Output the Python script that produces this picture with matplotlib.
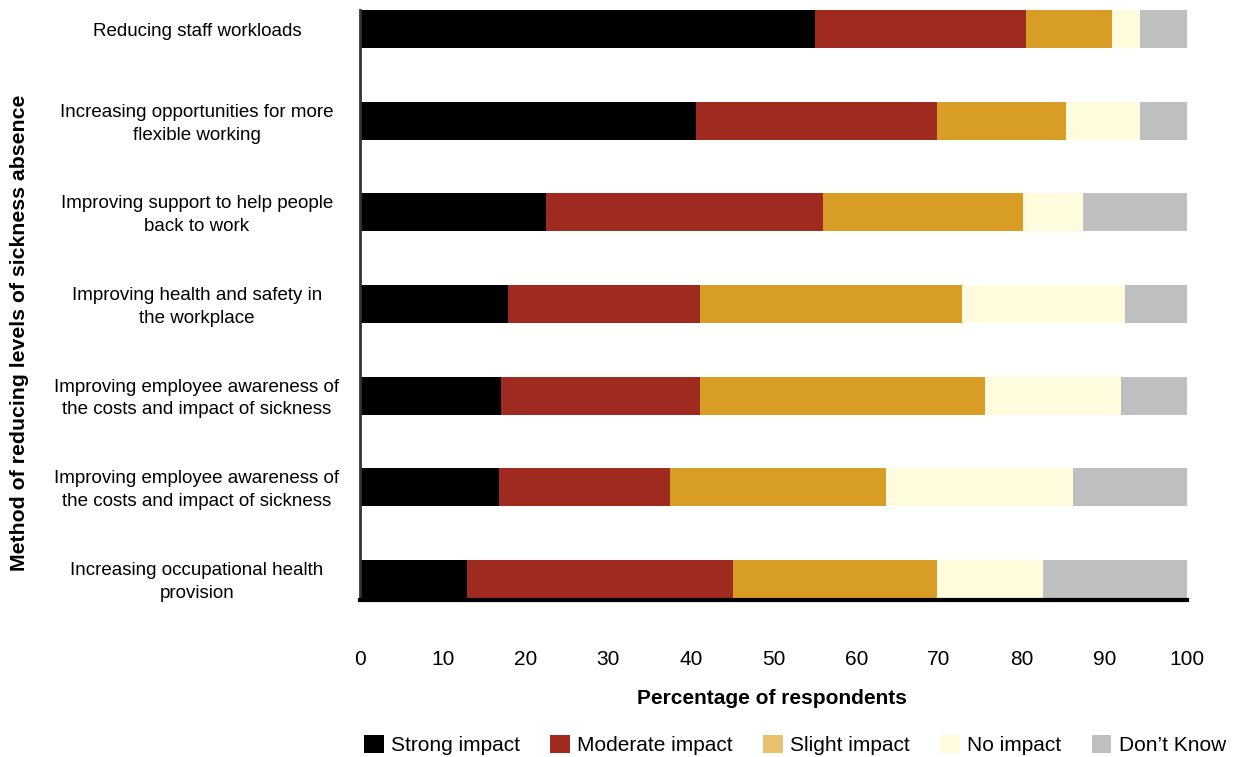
import numpy as np
import matplotlib
matplotlib.use("Agg")
from matplotlib import pyplot as plt
from matplotlib.patches import Patch
from matplotlib.transforms import blended_transform_factory

plt.rcParams['font.family'] = ['Liberation Sans', 'DejaVu Sans']

methods = [
	'Reducing staff workloads',
	'Increasing opportunities for more\nflexible working',
	'Improving support to help people\nback to work',
	'Improving health and safety in\nthe workplace',
	'Improving employee awareness of\nthe costs and impact of sickness',
	'Improving employee awareness of\nthe costs and impact of sickness',
	'Increasing occupational health\nprovision',
]

strong = [55.0, 40.6, 22.5, 17.9, 17.0, 16.8, 12.9]
moderate = [25.5, 29.2, 33.5, 23.2, 24.1, 20.7, 32.2]
slight = [10.4, 15.6, 24.2, 31.7, 34.5, 26.1, 24.7]
no_impact = [3.4, 8.9, 7.2, 19.7, 16.4, 22.6, 12.8]
dont_know = [5.7, 5.7, 12.6, 7.5, 8.0, 13.8, 17.4]

series = [strong, moderate, slight, no_impact, dont_know]
names = ['Strong impact', 'Moderate impact', 'Slight impact', 'No impact', 'Don\u2019t Know']
colors = ['#000000', '#9E2A20', '#D79D25', '#FFFBDD', '#BFBFBF']
legend_colors = ['#000000', '#9E2A20', '#E8C070', '#FFFBDD', '#BFBFBF']

fig = plt.figure(figsize=(12.37, 7.57), dpi=100)
ax = fig.add_axes([360/1237, 1 - 600/757, 827/1237, 590/757])

ypos = np.arange(len(methods))
left = np.zeros(len(methods))
for vals, col in zip(series, colors):
	ax.barh(ypos, vals, left=left, height=0.415, color=col, edgecolor='none')
	left = left + np.array(vals)

ax.set_xlim(0, 100)
ax.set_ylim(6.23, -0.21)
ax.set_xticks(np.arange(0, 101, 10))
ax.tick_params(axis='x', length=0, pad=36, labelsize=15)
ax.set_yticks([])

for s in ['top', 'right']:
	ax.spines[s].set_visible(False)
ax.spines['left'].set_color('#333333')
ax.spines['left'].set_linewidth(2)
ax.spines['bottom'].set_color('#000000')
ax.spines['bottom'].set_linewidth(3)

# category labels centred in the left margin
trans = blended_transform_factory(fig.transFigure, ax.transData)
for y, lab in zip(ypos, methods):
	ax.text(197/1237, y + 0.03, lab, transform=trans, ha='center', va='center',
		fontsize=13.5, linespacing=1.45, clip_on=False)

fig.text(20/1237, 1 - 333/757, 'Method of reducing levels of sickness absence',
	rotation=90, ha='center', va='center', fontsize=15.3, fontweight='bold')
fig.text(772/1237, 1 - 699/757, 'Percentage of respondents',
	ha='center', va='center', fontsize=15, fontweight='bold')

handles = [Patch(facecolor=c, edgecolor='none') for c in legend_colors]
fig.legend(handles, names, loc='center', bbox_to_anchor=(795/1237, 1 - 745/757),
	ncol=5, frameon=False, fontsize=15, handlelength=0.95, handleheight=0.95,
	handletextpad=0.35, columnspacing=1.45)

plt.savefig('out.png', dpi=100)
